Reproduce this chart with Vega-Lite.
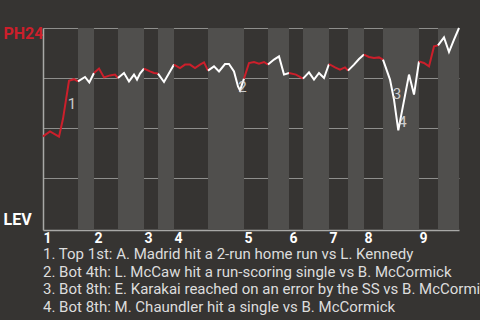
{
  "$schema": "https://vega.github.io/schema/vega-lite/v6.json",
  "width": 416,
  "height": 202,
  "autosize": "none",
  "padding": {"left": 43, "top": 28, "right": 21, "bottom": 90},
  "background": "#363432",
  "config": {
    "view": {"stroke": null, "fill": "#363432"},
    "font": "Roboto"
  },
  "title": {
    "text": [
      "1. Top 1st: A. Madrid hit a 2-run home run vs L. Kennedy",
      "2. Bot 4th: L. McCaw hit a run-scoring single vs B. McCormick",
      "3. Bot 8th: E. Karakai reached on an error by the SS vs B. McCormick",
      "4. Bot 8th: M. Chaundler hit a single vs B. McCormick"
    ],
    "orient": "bottom",
    "anchor": "start",
    "frame": "group",
    "font": "Roboto",
    "fontSize": 15,
    "fontWeight": "normal",
    "color": "#dddddd",
    "lineHeight": 17.7,
    "offset": 2
  },
  "datasets": {
    "bands": [
      {"x": 35, "x2": 51},
      {"x": 75, "x2": 101},
      {"x": 115, "x2": 131},
      {"x": 165, "x2": 201},
      {"x": 225, "x2": 246},
      {"x": 260, "x2": 286},
      {"x": 305, "x2": 321},
      {"x": 340, "x2": 376},
      {"x": 395, "x2": 416}
    ],
    "wp": [
      {"seg": "T1", "half": "Top", "x": 0, "p": 0.458},
      {"seg": "T1", "half": "Top", "x": 7, "p": 0.483},
      {"seg": "T1", "half": "Top", "x": 16, "p": 0.457},
      {"seg": "T1", "half": "Top", "x": 20, "p": 0.546},
      {"seg": "T1", "half": "Top", "x": 26, "p": 0.736},
      {"seg": "T1", "half": "Top", "x": 31, "p": 0.744},
      {"seg": "T1", "half": "Top", "x": 35, "p": 0.733},
      {"seg": "B1", "half": "Bot", "x": 35, "p": 0.733},
      {"seg": "B1", "half": "Bot", "x": 42, "p": 0.755},
      {"seg": "B1", "half": "Bot", "x": 46.3, "p": 0.728},
      {"seg": "B1", "half": "Bot", "x": 51, "p": 0.775},
      {"seg": "T2", "half": "Top", "x": 51, "p": 0.775},
      {"seg": "T2", "half": "Top", "x": 56, "p": 0.797},
      {"seg": "T2", "half": "Top", "x": 61, "p": 0.753},
      {"seg": "T2", "half": "Top", "x": 67, "p": 0.763},
      {"seg": "T2", "half": "Top", "x": 72, "p": 0.767},
      {"seg": "T2", "half": "Top", "x": 75, "p": 0.75},
      {"seg": "B2", "half": "Bot", "x": 75, "p": 0.75},
      {"seg": "B2", "half": "Bot", "x": 81, "p": 0.775},
      {"seg": "B2", "half": "Bot", "x": 86, "p": 0.733},
      {"seg": "B2", "half": "Bot", "x": 91, "p": 0.767},
      {"seg": "B2", "half": "Bot", "x": 94, "p": 0.742},
      {"seg": "B2", "half": "Bot", "x": 97, "p": 0.772},
      {"seg": "B2", "half": "Bot", "x": 101, "p": 0.797},
      {"seg": "T3", "half": "Top", "x": 101, "p": 0.797},
      {"seg": "T3", "half": "Top", "x": 107, "p": 0.783},
      {"seg": "T3", "half": "Top", "x": 111, "p": 0.775},
      {"seg": "T3", "half": "Top", "x": 115, "p": 0.772},
      {"seg": "B3", "half": "Bot", "x": 115, "p": 0.772},
      {"seg": "B3", "half": "Bot", "x": 121, "p": 0.73},
      {"seg": "B3", "half": "Bot", "x": 131, "p": 0.817},
      {"seg": "T4", "half": "Top", "x": 131, "p": 0.817},
      {"seg": "T4", "half": "Top", "x": 137, "p": 0.8},
      {"seg": "T4", "half": "Top", "x": 142, "p": 0.817},
      {"seg": "T4", "half": "Top", "x": 147, "p": 0.817},
      {"seg": "T4", "half": "Top", "x": 152, "p": 0.8},
      {"seg": "T4", "half": "Top", "x": 157, "p": 0.817},
      {"seg": "T4", "half": "Top", "x": 161, "p": 0.828},
      {"seg": "T4", "half": "Top", "x": 165, "p": 0.787},
      {"seg": "B4", "half": "Bot", "x": 165, "p": 0.787},
      {"seg": "B4", "half": "Bot", "x": 171, "p": 0.808},
      {"seg": "B4", "half": "Bot", "x": 176, "p": 0.783},
      {"seg": "B4", "half": "Bot", "x": 182, "p": 0.82},
      {"seg": "B4", "half": "Bot", "x": 186, "p": 0.82},
      {"seg": "B4", "half": "Bot", "x": 191, "p": 0.783},
      {"seg": "B4", "half": "Bot", "x": 195, "p": 0.708},
      {"seg": "B4", "half": "Bot", "x": 197, "p": 0.688},
      {"seg": "B4", "half": "Bot", "x": 201, "p": 0.747},
      {"seg": "T5", "half": "Top", "x": 201, "p": 0.747},
      {"seg": "T5", "half": "Top", "x": 206, "p": 0.825},
      {"seg": "T5", "half": "Top", "x": 211, "p": 0.83},
      {"seg": "T5", "half": "Top", "x": 216, "p": 0.822},
      {"seg": "T5", "half": "Top", "x": 221, "p": 0.83},
      {"seg": "T5", "half": "Top", "x": 225, "p": 0.817},
      {"seg": "B5", "half": "Bot", "x": 225, "p": 0.817},
      {"seg": "B5", "half": "Bot", "x": 231, "p": 0.842},
      {"seg": "B5", "half": "Bot", "x": 236, "p": 0.858},
      {"seg": "B5", "half": "Bot", "x": 241, "p": 0.767},
      {"seg": "B5", "half": "Bot", "x": 246, "p": 0.775},
      {"seg": "T6", "half": "Top", "x": 246, "p": 0.775},
      {"seg": "T6", "half": "Top", "x": 253, "p": 0.767},
      {"seg": "T6", "half": "Top", "x": 260, "p": 0.747},
      {"seg": "B6", "half": "Bot", "x": 260, "p": 0.747},
      {"seg": "B6", "half": "Bot", "x": 266, "p": 0.778},
      {"seg": "B6", "half": "Bot", "x": 271, "p": 0.742},
      {"seg": "B6", "half": "Bot", "x": 276, "p": 0.775},
      {"seg": "B6", "half": "Bot", "x": 281, "p": 0.75},
      {"seg": "B6", "half": "Bot", "x": 286, "p": 0.82},
      {"seg": "T7", "half": "Top", "x": 286, "p": 0.82},
      {"seg": "T7", "half": "Top", "x": 292, "p": 0.803},
      {"seg": "T7", "half": "Top", "x": 297, "p": 0.792},
      {"seg": "T7", "half": "Top", "x": 302, "p": 0.803},
      {"seg": "T7", "half": "Top", "x": 305, "p": 0.787},
      {"seg": "B7", "half": "Bot", "x": 305, "p": 0.787},
      {"seg": "B7", "half": "Bot", "x": 311, "p": 0.817},
      {"seg": "B7", "half": "Bot", "x": 316, "p": 0.845},
      {"seg": "B7", "half": "Bot", "x": 321, "p": 0.867},
      {"seg": "T8", "half": "Top", "x": 321, "p": 0.867},
      {"seg": "T8", "half": "Top", "x": 326, "p": 0.855},
      {"seg": "T8", "half": "Top", "x": 331, "p": 0.85},
      {"seg": "T8", "half": "Top", "x": 336, "p": 0.853},
      {"seg": "T8", "half": "Top", "x": 340, "p": 0.842},
      {"seg": "B8", "half": "Bot", "x": 340, "p": 0.842},
      {"seg": "B8", "half": "Bot", "x": 347, "p": 0.742},
      {"seg": "B8", "half": "Bot", "x": 351, "p": 0.642},
      {"seg": "B8", "half": "Bot", "x": 355.3, "p": 0.488},
      {"seg": "B8", "half": "Bot", "x": 366, "p": 0.767},
      {"seg": "B8", "half": "Bot", "x": 371, "p": 0.667},
      {"seg": "B8", "half": "Bot", "x": 376, "p": 0.833},
      {"seg": "T9", "half": "Top", "x": 376, "p": 0.833},
      {"seg": "T9", "half": "Top", "x": 381, "p": 0.825},
      {"seg": "T9", "half": "Top", "x": 386, "p": 0.808},
      {"seg": "T9", "half": "Top", "x": 391, "p": 0.908},
      {"seg": "T9", "half": "Top", "x": 395, "p": 0.913},
      {"seg": "B9", "half": "Bot", "x": 395, "p": 0.913},
      {"seg": "B9", "half": "Bot", "x": 401, "p": 0.953},
      {"seg": "B9", "half": "Bot", "x": 406, "p": 0.88},
      {"seg": "B9", "half": "Bot", "x": 411, "p": 0.942},
      {"seg": "B9", "half": "Bot", "x": 416, "p": 1.0}
    ],
    "marks": [
      {"n": "1", "x": 29, "p": 0.62},
      {"n": "2", "x": 199.5, "p": 0.704},
      {"n": "3", "x": 354, "p": 0.668},
      {"n": "4", "x": 359.5, "p": 0.531}
    ]
  },
  "layer": [
    {
      "data": {"name": "bands"},
      "mark": {"type": "rect", "color": "#504f4d"},
      "encoding": {
        "x": {
          "field": "x",
          "type": "quantitative",
          "scale": {"domain": [0, 416], "nice": false, "zero": false},
          "axis": {
            "orient": "bottom",
            "values": [0, 51, 101, 131, 201, 246, 286, 321, 376],
            "labelExpr": "datum.value == 0 ? '1' : datum.value == 51 ? '2' : datum.value == 101 ? '3' : datum.value == 131 ? '4' : datum.value == 201 ? '5' : datum.value == 246 ? '6' : datum.value == 286 ? '7' : datum.value == 321 ? '8' : '9'",
            "labelAlign": "left",
            "labelBaseline": "top",
            "labelFlush": false,
            "labelOverlap": false,
            "labelBound": false,
            "labelFont": "Roboto",
            "labelFontSize": 14,
            "labelFontWeight": "bold",
            "labelColor": "#ffffff",
            "labelPadding": 1,
            "ticks": false,
            "tickSize": 0,
            "grid": false,
            "domain": true,
            "domainColor": "#a8a8a6",
            "domainWidth": 1.5,
            "title": null
          }
        },
        "x2": {"field": "x2"}
      }
    },
    {
      "data": {"name": "wp"},
      "mark": {"type": "line", "strokeWidth": 2},
      "encoding": {
        "x": {"field": "x", "type": "quantitative"},
        "y": {
          "field": "p",
          "type": "quantitative",
          "scale": {"domain": [-0.01, 1], "nice": false, "zero": false},
          "axis": {
            "orient": "left",
            "values": [0.044, 0.25, 0.5, 0.75, 0.974, 1],
            "labelExpr": "datum.value == 0.974 ? 'PH24' : datum.value == 0.044 ? 'LEV' : ''",
            "labelColor": {"condition": {"test": "datum.value > 0.5", "value": "#cc1f2b"}, "value": "#ffffff"},
            "labelAlign": "left",
            "labelBaseline": "middle",
            "labelPadding": 40,
            "labelFont": "Roboto",
            "labelFontSize": 16,
            "labelFontWeight": "bold",
            "labelFlush": false,
            "labelOverlap": false,
            "labelBound": false,
            "ticks": false,
            "tickSize": 0,
            "grid": true,
            "gridColor": "#8e8e8c",
            "gridWidth": 1,
            "gridOpacity": {"condition": {"test": "datum.value == 0.044 || datum.value == 0.974", "value": 0}, "value": 1},
            "domain": true,
            "domainColor": "#a8a8a6",
            "domainWidth": 1.5,
            "title": null
          }
        },
        "detail": {"field": "seg"},
        "color": {
          "field": "half",
          "type": "nominal",
          "scale": {"domain": ["Top", "Bot"], "range": ["#cc1f2b", "#ffffff"]},
          "legend": null
        }
      }
    },
    {
      "data": {"name": "marks"},
      "mark": {"type": "text", "font": "Roboto", "fontSize": 15, "color": "#e4e4e4", "opacity": 0.85, "align": "center", "baseline": "middle"},
      "encoding": {
        "x": {"field": "x", "type": "quantitative"},
        "y": {"field": "p", "type": "quantitative"},
        "text": {"field": "n"}
      }
    }
  ]
}
